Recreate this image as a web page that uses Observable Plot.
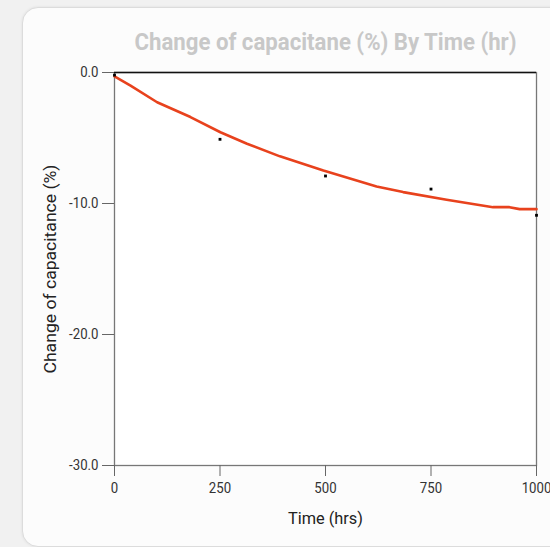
<!DOCTYPE html>
<html>
<head>
<meta charset="utf-8">
<script src="https://cdn.jsdelivr.net/npm/d3@7"></script>
<script src="https://cdn.jsdelivr.net/npm/@observablehq/plot@0.6"></script>
<style>
  html, body { margin: 0; padding: 0; background: #f1f1f1; width: 550px; height: 547px; overflow: hidden; }
  #card { position: absolute; left: 22px; top: 7px; width: 560px; height: 538px; background: #fcfcfc;
          border: 1px solid #dcdcdc; border-radius: 16px; box-shadow: 0 0 3px rgba(0,0,0,0.08); }
  #chart { position: absolute; left: 0; top: 0; }
  #chart svg { background: transparent; font-family: Roboto, "Noto Sans", sans-serif; }
</style>
</head>
<body>
<div id="card"></div>
<div id="chart"></div>
<script>
const titleText = "Change of capacitane (%) By Time (hr)";
const xLabel = "Time (hrs)";
const yLabel = "Change of capacitance (%)";
const xTicks = [0, 250, 500, 750, 1000];
const yTicks = [0, -10, -20, -30];

// measured points (black squares)
const pointTime = [0, 250, 500, 750, 1000];
const pointChange = [-0.2, -5.1, -7.9, -8.9, -10.9];

// fitted red curve
const curveTime = [0, 38, 101, 180, 251, 314, 392, 495, 621, 684, 787, 897, 936, 960, 1000];
const curveChange = [-0.3, -1.0, -2.27, -3.4, -4.56, -5.44, -6.4, -7.48, -8.7, -9.13, -9.72, -10.28, -10.28, -10.43, -10.43];

const points = pointTime.map((t, i) => ({t, v: pointChange[i]}));
const curve = curveTime.map((t, i) => ({t, v: curveChange[i]}));

const fmt = d => d.toFixed(1);

const plot = Plot.plot({
  width: 550,
  height: 547,
  marginLeft: 114,
  marginRight: 14,
  marginTop: 72,
  marginBottom: 82,
  x: {domain: [0, 1000]},
  y: {domain: [-30, 0]},
  marks: [
    Plot.frame({fill: "white", stroke: "#777", strokeWidth: 1.3}),
    Plot.ruleY([0], {stroke: "#111", strokeWidth: 1.3}),
    Plot.axisY({ticks: yTicks, tickFormat: fmt, tickSize: 12, tickPadding: 4, fontSize: 15, stroke: "#666", color: "#333", label: null, className: "condense"}),
    Plot.axisX({ticks: xTicks, tickFormat: d => String(d), tickSize: 11, tickPadding: 6, fontSize: 15, stroke: "#666", color: "#333", label: null, className: "condense"}),
    Plot.line(curve, {x: "t", y: "v", stroke: "#e8421d", strokeWidth: 2.6, curve: "linear"}),
    Plot.dot(points, {x: "t", y: "v", symbol: "square", r: 1.6, fill: "#000", stroke: null}),
    Plot.text([titleText], {frameAnchor: "top", lineAnchor: "middle", dy: -30, fontSize: 24, fontWeight: "bold", fill: "#c8c8c8", text: d => d, className: "fit-title"}),
    Plot.text([xLabel], {frameAnchor: "bottom", lineAnchor: "middle", dy: 53, fontSize: 17, fill: "#222", text: d => d, className: "fit-xlabel"}),
    Plot.text([yLabel], {frameAnchor: "left", textAnchor: "middle", lineAnchor: "middle", dx: -64, rotate: -90, fontSize: 17, fill: "#222", text: d => d, className: "fit-ylabel"})
  ]
});
document.getElementById("chart").appendChild(plot);

// emulate a condensed typeface by compressing glyph widths
function squeeze(sel, fn) {
  plot.querySelectorAll(sel).forEach(t => {
    const w = t.getComputedTextLength();
    t.setAttribute("textLength", fn(w));
    t.setAttribute("lengthAdjust", "spacingAndGlyphs");
  });
}
squeeze("g.fit-title text", () => 382);
squeeze("g.fit-xlabel text", () => 75);
squeeze("g.fit-ylabel text", () => 209);
squeeze("g.condense text", w => w * 0.88);
</script>
</body>
</html>
